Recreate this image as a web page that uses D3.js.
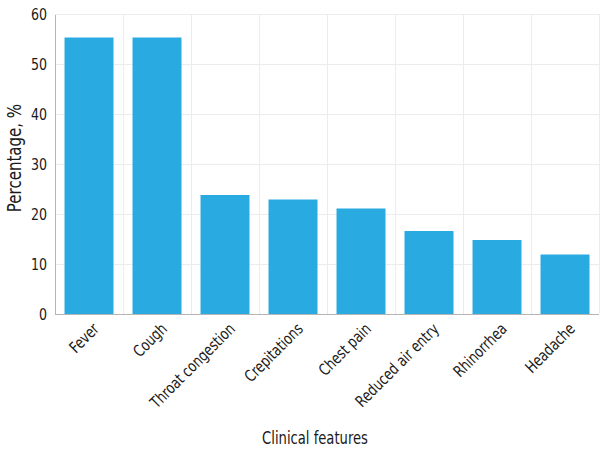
<!DOCTYPE html>
<meta charset="utf-8">
<title>Clinical features</title>
<style>
body { margin: 0; background: #fff; }
svg text { font-family: "DejaVu Sans Condensed", "Liberation Sans Narrow", sans-serif; fill: #1a1a1a; }
.grid line { stroke: #ececec; stroke-width: 1; shape-rendering: crispEdges; }
.axis path, .axis line { stroke: #b5b5b5; shape-rendering: crispEdges; }
</style>
<body>
<script src="https://d3js.org/d3.v7.min.js"></script>
<script>

var features = ["Fever", "Cough", "Throat congestion", "Crepitations", "Chest pain",
                "Reduced air entry", "Rhinorrhea", "Headache"];
var percents = [55.3, 55.3, 23.8, 22.9, 21.1, 16.6, 14.8, 11.9];
var yTicks = [0, 10, 20, 30, 40, 50, 60];

var margin = {top: 14, right: 5, bottom: 137, left: 55},
    width = 604 - margin.left - margin.right,
    height = 451 - margin.top - margin.bottom;

var x = d3.scaleBand().domain(features).range([0, width]).padding(0);
var y = d3.scaleLinear().domain([0, 60]).range([height, 0]);

var svg = d3.select("body").append("svg")
    .attr("width", 604)
    .attr("height", 451)
  .append("g")
    .attr("transform", "translate(" + margin.left + "," + margin.top + ")");

// grid
var grid = svg.append("g").attr("class", "grid");
grid.selectAll(".h").data(yTicks.slice(1))
  .enter().append("line")
    .attr("x1", 0).attr("x2", width)
    .attr("y1", function(d) { return y(d); })
    .attr("y2", function(d) { return y(d); });
grid.selectAll(".v").data(features.slice(1).concat(["end"]))
  .enter().append("line")
    .attr("x1", function(d, i) { return i < features.length - 1 ? x(d) : width; })
    .attr("x2", function(d, i) { return i < features.length - 1 ? x(d) : width; })
    .attr("y1", 0).attr("y2", height);

// bars
var barW = x.bandwidth() * 0.72;
svg.selectAll(".bar")
    .data(features)
  .enter().append("rect")
    .attr("class", "bar")
    .attr("x", function(d) { return x(d) + (x.bandwidth() - barW) / 2; })
    .attr("width", barW)
    .attr("y", function(d, i) { return y(percents[i]); })
    .attr("height", function(d, i) { return height - y(percents[i]); })
    .style("fill", "#29abe2");

// axes (condensed look: horizontal squeeze of the glyphs)
var yAxis = svg.append("g")
    .attr("class", "axis")
    .call(d3.axisLeft(y).tickValues(yTicks).tickSize(0));
yAxis.selectAll("text")
    .style("font-size", "16.5px")
    .attr("x", 0)
    .attr("transform", "translate(-8,0) scale(0.85,1)");

var xAxis = svg.append("g")
    .attr("class", "axis")
    .attr("transform", "translate(0," + height + ")")
    .call(d3.axisBottom(x).tickSize(0));
xAxis.select(".domain").attr("d", "M0,0.5H" + width);
xAxis.selectAll("text")
    .style("font-size", "16px")
    .style("text-anchor", "end")
    .attr("dy", "0.35em")
    .attr("x", 0).attr("y", 0)
    .attr("transform", "translate(7,12) rotate(-45) scale(0.86,1)");

svg.append("text")
    .attr("transform", "translate(-34,144) rotate(-90) scale(0.88,1)")
    .style("text-anchor", "middle")
    .style("font-size", "19px")
    .text("Percentage, %");

svg.append("text")
    .attr("transform", "translate(260," + (height + 130) + ") scale(0.79,1)")
    .style("text-anchor", "middle")
    .style("font-size", "18.5px")
    .text("Clinical features");

</script>
</body>
